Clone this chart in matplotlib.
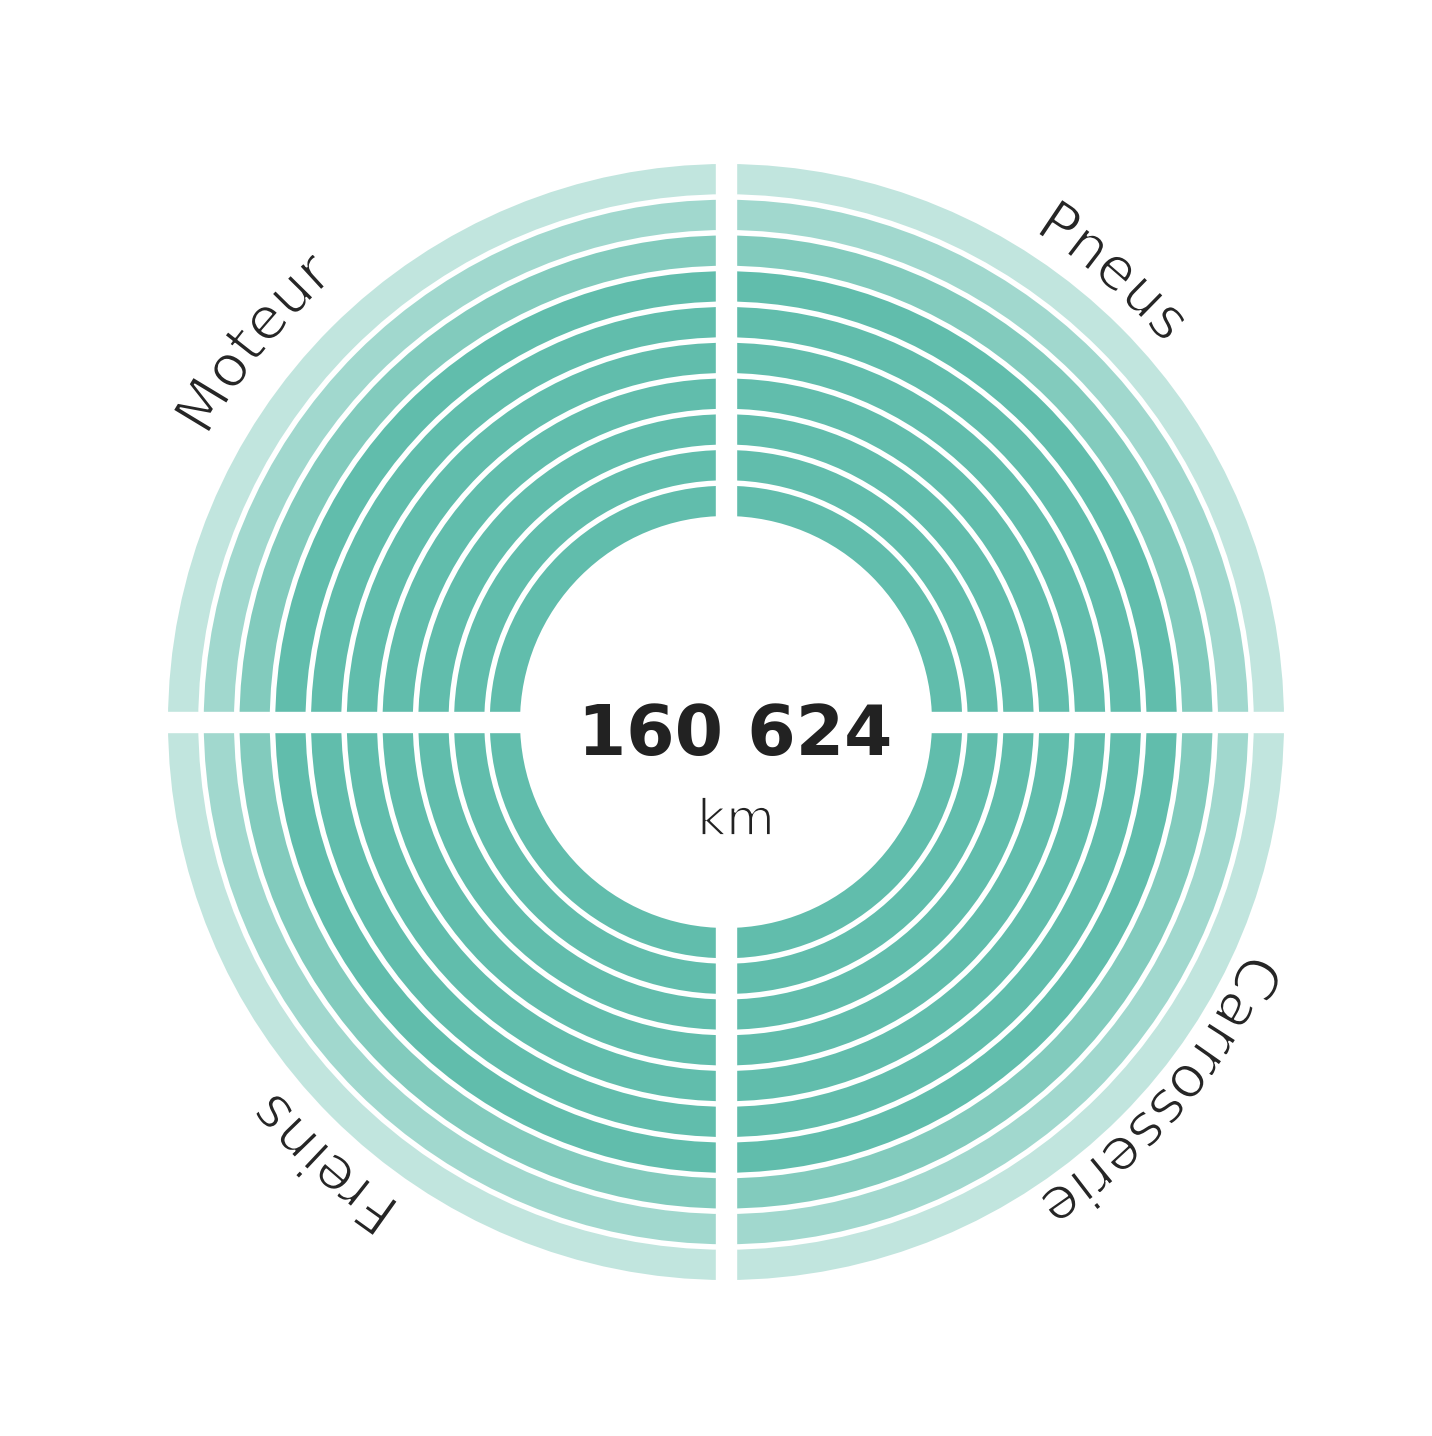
import numpy as np
import matplotlib
matplotlib.use("Agg")
import matplotlib.pyplot as plt
from matplotlib.patches import Wedge
from matplotlib.font_manager import FontProperties
from matplotlib.textpath import TextToPath
import matplotlib.patheffects as pe

# data
categories = ["Moteur", "Pneus", "Carrosserie", "Freins"]
quadrant_start = [90, 0, 270, 180]          # degrees, counter-clockwise from east
ring_shade = [0, 0, 0, 0, 0, 0, 0, 1, 2, 3]  # inner ring -> outer ring
shade_colors = ["#61BDAC", "#82CBBD", "#A1D8CE", "#C1E5DE"]
total_km = "160 624"
unit = "km"

# label placement (centre angle in degrees, baseline radius in px)
label_angle = [141.3, 49.3, -40.3, -132.3]
label_radius = [592, 579, 569, 581]

W, H, DPI = 1432, 1436, 100
cx, cy = 726, 722
r_in, r_out, ring_gap = 206, 558, 5.5
cross_half = 10

fig = plt.figure(figsize=(W / DPI, H / DPI), dpi=DPI)
ax = fig.add_axes([0, 0, 1, 1])
ax.set_xlim(-cx, W - cx)
ax.set_ylim(-(H - cy), cy)
ax.axis("off")

n = len(ring_shade)
pitch = (r_out - r_in + ring_gap) / n
width = pitch - ring_gap

for start in quadrant_start:
    for i, shade in enumerate(ring_shade):
        outer = r_in + i * pitch + width
        ax.add_patch(Wedge((0, 0), outer, start, start + 90, width=width,
                           facecolor=shade_colors[shade], edgecolor="none"))

# white cross separating the quadrants
ax.axvspan(-cross_half, cross_half, color="white", zorder=3)
ax.axhspan(-cross_half, cross_half, color="white", zorder=3)

# curved labels, reading clockwise with letter tops outward
ttp = TextToPath()
px_per_pt = DPI / 72
thin = [pe.Normal(), pe.Stroke(linewidth=1.3, foreground="white")]


def text_w(s, fp):
    if not s:
        return 0
    return ttp.get_text_width_height_descent(s, fp, ismath=False)[0] * px_per_pt


def arc_text(s, theta_c, r, size):
    fp = FontProperties(family="DejaVu Sans", size=size)
    total = text_w(s, fp)
    for k, ch in enumerate(s):
        off = text_w(s[:k], fp) + text_w(ch, fp) / 2 - total / 2
        phi = np.radians(theta_c) - off / r
        ax.text(r * np.cos(phi), r * np.sin(phi), ch, fontproperties=fp,
                color="#262626", ha="center", va="baseline",
                rotation=np.degrees(phi) - 90, rotation_mode="anchor",
                zorder=4, path_effects=thin)


for name, ang, rad in zip(categories, label_angle, label_radius):
    arc_text(name, ang, rad, 42)

ax.text(9.5, -33, total_km, ha="center", va="baseline", fontsize=50,
        fontweight="bold", color="#222222", family="DejaVu Sans", zorder=4)
ax.text(10, -113, unit, ha="center", va="baseline", fontsize=36,
        color="#222222", family="DejaVu Sans", zorder=4, path_effects=thin)

fig.savefig("out.png", dpi=DPI, facecolor="white")
